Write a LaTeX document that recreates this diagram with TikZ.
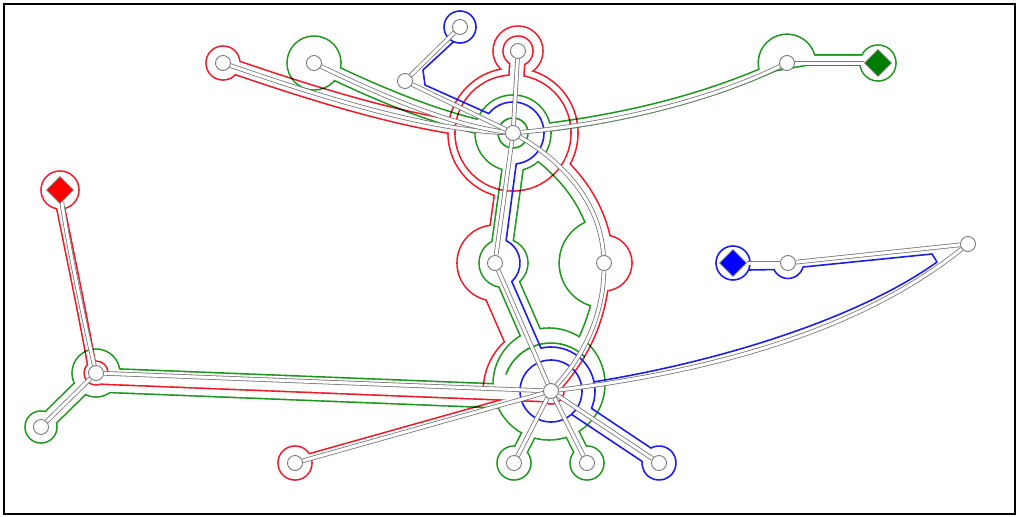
\documentclass[tikz,border=0pt]{standalone}
\usetikzlibrary{shapes.geometric,calc}
\definecolor{hred}{RGB}{240,25,40}
\definecolor{hgreen}{RGB}{30,150,30}
\definecolor{hblue}{RGB}{30,30,235}
\definecolor{dgreen}{RGB}{0,125,0}
\definecolor{egray}{RGB}{120,120,120}
\pgfdeclarelayer{hull}
\pgfdeclarelayer{edges}
\pgfsetlayers{hull,edges,main}
\newif\ifouterpass
\def\tcol{black}
\def\sg{(1.6)}
\newcommand\Tube[2]{\draw[draw=\tcol,line cap=round,line join=round,line width={(2*#1+\sg)*1pt}] #2;}
\newcommand\Disc[2]{\fill[fill=\tcol] #2 circle[radius={(#1+\sg/2)*1pt}];}
\newcommand\RegOut[1]{\filldraw[fill=\tcol,draw=\tcol,line width=3.2pt,line join=round] #1;}
\newcommand\RegIn[1]{\fill[fill=white] #1;}
\newcommand\Region[1]{\ifouterpass\RegOut{#1}\else\RegIn{#1}\fi}
\newcommand\Outline[2]{\def\tcol{#1}\def\sg{(1.6)}\outerpasstrue#2%
  \def\tcol{white}\def\sg{(-1.6)}\outerpassfalse#2}
\tikzset{
 vtx/.style={circle,draw=egray,fill=white,line width=0.9pt,minimum size=15pt,inner sep=0pt},
 dia/.style={diamond,draw=egray,line width=0.6pt,minimum size=27pt,inner sep=0pt},
 gedge/.style={draw=egray,line width=0.8pt,double=white,double distance=3pt},
 bl/.style={draw=hblue,line width=1.6pt,line join=round},
 gl/.style={draw=hgreen,line width=1.6pt},
}
\begin{document}
\begin{tikzpicture}[x=1pt,y=-1pt]
\useasboundingbox (0,0) rectangle (1018,517);
% nodes
\node[vtx] (H) at (513,133) {};
\node[vtx] (B) at (551,391) {};
\node[vtx] (M1) at (495,263) {};
\node[vtx] (M2) at (604,263) {};
\node[vtx] (n1) at (223,63) {};
\node[vtx] (n2) at (314,63) {};
\node[vtx] (n3) at (405,81) {};
\node[vtx] (n4) at (460,27) {};
\node[vtx] (n5) at (518,51) {};
\node[vtx] (n6) at (787,63) {};
\node[vtx] (L) at (96,373) {};
\node[vtx] (n7) at (41,427) {};
\node[vtx] (n8) at (295,463) {};
\node[vtx] (n9) at (514,463) {};
\node[vtx] (n10) at (587,463) {};
\node[vtx] (n11) at (659,463) {};
\node[vtx] (n12) at (788,263) {};
\node[vtx] (n13) at (968,244) {};
\node[dia,fill=red] (R) at (60,190) {};
\node[dia,fill=dgreen] (G) at (878,63) {};
\node[dia,fill=blue] (U) at (733,263) {};

\begin{pgfonlayer}{hull}
% ---------------- green
\begin{scope}[blend mode=multiply]
\begin{scope}[transparency group]
\begin{scope}[blend mode=normal]
\Outline{hgreen}{%
 \Disc{18}{(G.center)}
 \Tube{5}{($(n6)+(0,-3)$) -- ($(G)+(0,-3)$)}
 \Region{($(n6)+(160:28)$) arc[start angle=160,end angle=360,radius=28] -- cycle}
 \Tube{4}{($(H)+(0,-2)$) .. controls (600,123) and (700,103) .. ($(n6)+(0,-2)$)}
 \Disc{38}{(H.center)}
 \Tube{7}{(n2.center) .. controls (380,95) and (450,125) .. (H.center)}
 \Disc{27}{(n2.center)}
 \Tube{10.5}{($(H)+(4.5,0.6)$) -- ($(M1)+(4.5,0.6)$)}
 \Disc{24.5}{($(M1)+(8.5,0)$)}
 \Tube{10.5}{($(M1)+(4.1,-1.8)$) -- ($(B)+(4.1,-1.8)$)}
 \Tube{5}{($(H)+(-4.3,2.5)$) .. controls (555.7,162.5) and (595.7,202.5) .. ($(M2)+(-4.3,2.5)$)}
 \Region{(M2.center) -- ++(100:44) arc[start angle=100,end angle=260,radius=44] -- cycle}
 \Tube{4}{($(M2)+(-3.7,-1.6)$) .. controls (599.3,318.4) and (576.3,358.4) .. ($(B)+(-3.7,-1.6)$)}
 \Disc{56}{(549,384)}
 \Tube{7}{(B.center) -- (n9.center)}
 \Disc{17}{(n9.center)}
 \Tube{7}{(B.center) -- (n10.center)}
 \Disc{17}{(n10.center)}
 \Tube{12}{($(L)+(0,7)$) -- ($(B)+(0,7)$)}
 \Disc{24}{(L.center)}
 \Tube{8}{(L.center) -- (n7.center)}
 \Disc{16}{(n7.center)}
}
\draw[gl] (H) circle[radius=15];
\draw[gl] ($(B)+(200:48)$) arc[start angle=200,end angle=315,radius=48];
\end{scope}
\end{scope}
\end{scope}
% ---------------- red
\begin{scope}[blend mode=multiply]
\begin{scope}[transparency group]
\begin{scope}[blend mode=normal]
\Outline{hred}{%
 \Disc{19}{(R.center)}
 \Tube{4}{($(R)+(-3,0)$) .. controls (69,250) and (84,320) .. ($(L)+(-3,0)$)}
 \Disc{12}{(L.center)}
 \Tube{6}{($(L)+(0,5)$) -- ($(B)+(0,5)$)}
 \Disc{13}{(B.center)}
 \Tube{3}{($(n8)+(-0.5,-2)$) -- ($(B)+(-0.5,-2)$)}
 \Disc{17}{(n8.center)}
 \Region{(H.center) -- (M1.center) -- (B.center) .. controls (580,360) and (603,320) .. (M2.center) .. controls (600,200) and (560,160) .. (H.center) -- cycle}
 \Tube{10}{(H.center) -- (M1.center)}
 \Disc{38}{(M1.center)}
 \Tube{11.5}{($(M1)+(-10.5,4.6)$) -- ($(M1)!0.7!(B)+(-10.5,4.6)$)}
 \Region{(B.center) -- ($(B)!0.48!(M1)$) -- ($(B)+(225:67)$) arc[start angle=225,end angle=175,radius=67] -- cycle}
 \Disc{28}{(M2.center)}
 \Tube{10}{(H.center) .. controls (560,160) and (600,200) .. (M2.center)}
 \Tube{6}{(M2.center) .. controls (603,320) and (580,360) .. (B.center)}
 \Disc{65}{(H.center)}
 \Tube{7}{(n1.center) .. controls (330,100) and (430,130) .. (H.center)}
 \Disc{17}{(n1.center)}
 \Tube{15}{(n5.center) -- (H.center)}
 \Disc{25}{(n5.center)}
}
\Outline{hred}{\Disc{58}{(H.center)}\Tube{7.5}{(n5.center) -- (H.center)}\Disc{15}{(n5.center)}}
\end{scope}
\end{scope}
\end{scope}
% ---------------- blue
\draw[bl] (n4) circle[radius=16];
\draw[bl] (453.6,41.7) -- (423,70) -- (425,85) -- ($(H)+(218.7:31)$)
  arc[start angle=218.7,end angle=444,radius=31]
  -- ($(M1)+(-63.6:25)$) arc[start angle=-63.6,end angle=47.8,radius=25]
  -- ($(B)+(256.8:44)$) arc[start angle=256.8,end angle=383.2,radius=44]
  -- ($(n11)+(241.6:17)$) arc[start angle=241.6,end angle=545.4,radius=17]
  -- ($(B)+(48.7:31)$);
\draw[bl] (B) circle[radius=31];
\draw[bl] ($(B)+(-12:44)$) .. controls (728,360) and (862,316) .. (937,262) -- (932,254)
  -- ($(n12)+(15:15.5)$) arc[start angle=15,end angle=155,radius=15.5]
  -- ($(U)+(24.3:17)$);
\draw[bl] (U) circle[radius=17];
\end{pgfonlayer}

\begin{pgfonlayer}{edges}
\path[gedge] (n1) .. controls (330,100) and (430,130) .. (H);
\path[gedge] (n2) .. controls (380,95) and (450,125) .. (H);
\path[gedge] (n3) -- (H);
\path[gedge] (n4) -- (n3);
\path[gedge] (n5) -- (H);
\path[gedge] (H) .. controls (600,125) and (700,105) .. (n6);
\path[gedge] (n6) -- (G);
\path[gedge] (H) -- (M1);
\path[gedge] (M1) -- (B);
\path[gedge] (H) .. controls (560,160) and (600,200) .. (M2);
\path[gedge] (M2) .. controls (603,320) and (580,360) .. (B);
\path[gedge] (R) .. controls (69,250) and (84,320) .. (L);
\path[gedge] (L) -- (n7);
\path[gedge] (L) -- (B);
\path[gedge] (n8) -- (B);
\path[gedge] (B) -- (n9);
\path[gedge] (B) -- (n10);
\path[gedge] (B) -- (n11);
\path[gedge] (B) .. controls (731,369) and (868,324) .. (n13);
\path[gedge] (n13) -- (n12);
\path[gedge] (n12) -- (U);
\end{pgfonlayer}

\draw[line width=2pt] (4,3.5) rectangle (1015,514);
\end{tikzpicture}
\end{document}
